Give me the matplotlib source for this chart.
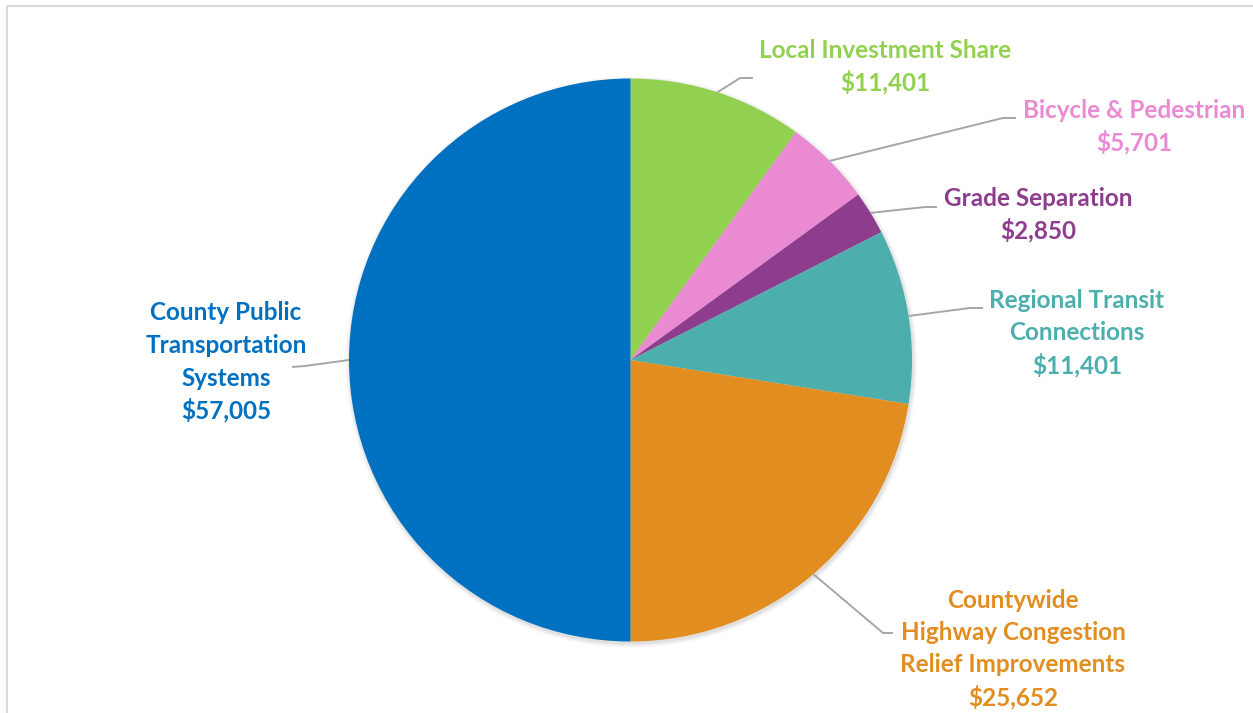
import matplotlib
matplotlib.use("Agg")
import matplotlib.pyplot as plt
import numpy as np

# ---- data ----
categories = [
    "Local Investment Share",
    "Bicycle & Pedestrian",
    "Grade Separation",
    "Regional Transit\nConnections",
    "Countywide\nHighway Congestion\nRelief Improvements",
    "County Public\nTransportation\nSystems",
]
values = [11401, 5701, 2850, 11401, 25652, 57005]
colors = ["#92D050", "#E98AD3", "#8E3C8E", "#4CAFAE", "#E18D1F", "#0070C0"]

# ---- layout (pixel coordinates, y measured from top) ----
W, H = 1253, 713
cx, cy, R = 630.5, 360.0, 281.5
# label centre x, first-line centre y
label_pos = [(885, 50), (1134, 110), (1038, 198), (1077, 300), (1013, 600), (226, 313)]
# leader elbow point and end of horizontal stub
elbows = [((740, 78), (753, 78)), ((1003, 118), (1016, 118)), ((925, 207), (937, 207)),
          ((970, 308), (983, 308)), ((883, 633), (893, 633)), ((305, 366), (292, 367))]
line_step = 32.5

plt.rcParams['font.family'] = ['Lato', 'DejaVu Sans']
fig = plt.figure(figsize=(W / 100, H / 100), dpi=100)
ax = fig.add_axes([0, 0, 1, 1])

def Y(y):
    return H - y

# subtle shadow
for off, a in [(4, 0.03), (2.5, 0.04), (1, 0.05)]:
    ax.add_patch(plt.Circle((cx + 1, Y(cy) - 2), R + off, color="#000000", alpha=a,
                            zorder=0, lw=0))

wedges, _ = ax.pie(values, colors=colors, startangle=90, counterclock=False,
                   center=(cx, Y(cy)), radius=R, wedgeprops=dict(linewidth=0))
for w in wedges:
    w.set_zorder(1)

total = sum(values)
cum = 0
for i, v in enumerate(values):
    mid = 90 - 360 * (cum + v / 2) / total
    cum += v
    sx = cx + R * np.cos(np.radians(mid))
    sy = Y(cy) + R * np.sin(np.radians(mid))
    (ex, ey), (hx, hy) = elbows[i]
    ax.plot([sx, ex, hx], [sy, Y(ey), Y(hy)], color="#A6A6A6", lw=1.4, zorder=2,
            solid_capstyle="butt")
    lx, ly = label_pos[i]
    lines = categories[i].split("\n") + ["${:,}".format(v)]
    for k, t in enumerate(lines):
        ax.text(lx, Y(ly + k * line_step), t, color=colors[i], fontsize=17.5,
                fontweight="bold", ha="center", va="center", zorder=3)

# chart frame (partially visible)
ax.plot([7, 7, W + 10], [-10, Y(6), Y(6)], color="#D9D9D9", lw=1.5, zorder=0)

ax.set_xlim(0, W)
ax.set_ylim(0, H)
ax.set_aspect("equal")
ax.axis("off")
fig.savefig("out.png", dpi=100, facecolor="white")
